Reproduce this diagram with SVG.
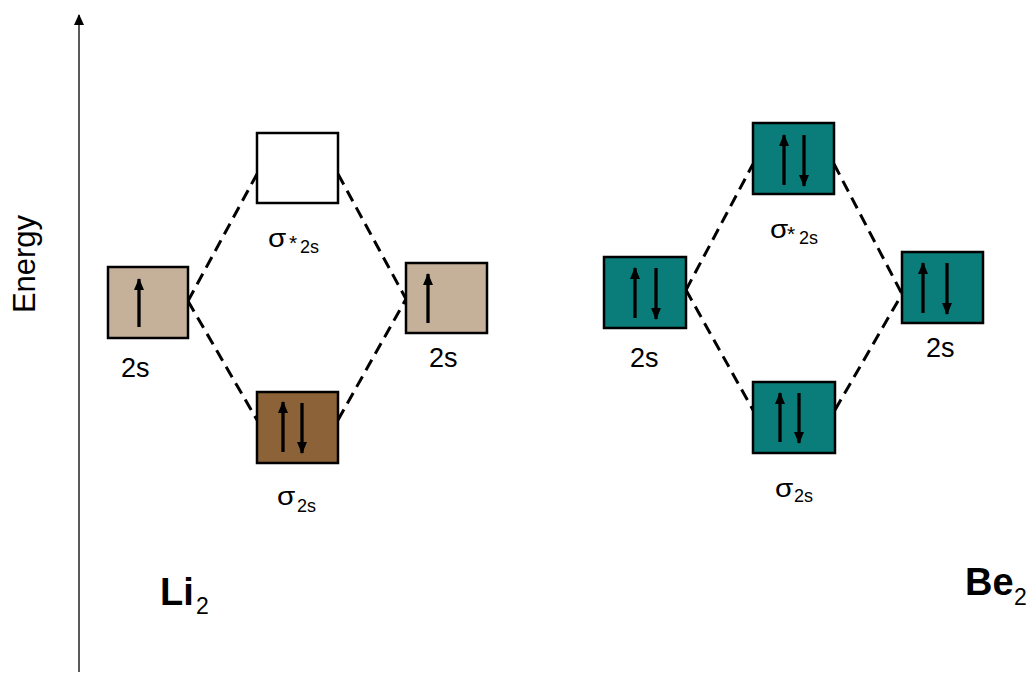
<svg xmlns="http://www.w3.org/2000/svg" width="1033" height="675" viewBox="0 0 1033 675">
  <defs>
    <!-- filled spin arrowhead, tip at the end of the line -->
    <marker id="head" viewBox="0 0 12 10" refX="11" refY="5" markerWidth="12" markerHeight="10" markerUnits="userSpaceOnUse" orient="auto">
      <path d="M0,0 L12,5 L0,10 Z" fill="#000"/>
    </marker>
    <marker id="axisHead" viewBox="0 0 11 10" refX="10" refY="5" markerWidth="11" markerHeight="10" markerUnits="userSpaceOnUse" orient="auto">
      <path d="M0,0 L11,5 L0,10 Z" fill="#000"/>
    </marker>
  </defs>
  <style>
    .box { stroke: #000; stroke-width: 2.5; }
    .tan { fill: #C5B19A; }
    .brown { fill: #8C6239; }
    .teal { fill: #0A7C7A; }
    .empty { fill: #FFFFFF; }
    .spin { stroke: #000; stroke-width: 3.3; fill: none; marker-end: url(#head); }
    .dash { stroke: #000; stroke-width: 3; stroke-dasharray: 12 7; fill: none; }
    .t { font-family: "Liberation Sans", Arial, sans-serif; fill: #000; }
    .lbl { font-size: 27px; }
    .sig { font-size: 25px; }
    .sub { font-size: 18px; }
    .star { font-size: 21px; }
    .mol { font-size: 38px; font-weight: bold; }
    .molsub { font-size: 23px; font-weight: normal; }
  </style>

  <rect width="1033" height="675" fill="#FFFFFF"/>

  <!-- energy axis -->
  <g id="axis">
    <line x1="79" y1="672" x2="79" y2="15" stroke="#222" stroke-width="1.5" marker-end="url(#axisHead)"/>
    <text class="t" font-size="31" text-anchor="middle" transform="translate(35,264) rotate(-90)">Energy</text>
  </g>

  <!-- correlation lines -->
  <g id="connectors">
    <line class="dash" x1="188" y1="301" x2="257" y2="174"/>
    <line class="dash" x1="338" y1="174" x2="406" y2="299"/>
    <line class="dash" x1="188" y1="301" x2="257" y2="420"/>
    <line class="dash" x1="338" y1="420" x2="406" y2="299"/>
    <line class="dash" x1="686" y1="290" x2="753" y2="164"/>
    <line class="dash" x1="834" y1="164" x2="902" y2="294"/>
    <line class="dash" x1="686" y1="290" x2="753" y2="410"/>
    <line class="dash" x1="835" y1="410" x2="902" y2="294"/>
  </g>

  <!-- Li2 -->
  <g id="li-2s-left">
    <rect class="box tan" x="108" y="267" width="80" height="71"/>
    <line class="spin" x1="139" y1="327" x2="139" y2="279"/>
    <text class="t lbl" x="121" y="377">2s</text>
  </g>
  <g id="li-2s-right">
    <rect class="box tan" x="406" y="263" width="81" height="70"/>
    <line class="spin" x1="428" y1="323" x2="428" y2="274"/>
    <text class="t lbl" x="429" y="367">2s</text>
  </g>
  <g id="li-sigma-star">
    <rect class="box empty" x="257" y="133" width="81" height="70"/>
    <text class="t sig" transform="translate(268,247) scale(1.18,1)">σ</text>
    <text class="t"><tspan class="star" x="289" y="250">*</tspan><tspan class="sub" x="300" y="253">2s</tspan></text>
  </g>
  <g id="li-sigma">
    <rect class="box brown" x="257" y="392" width="81" height="71"/>
    <line class="spin" x1="283" y1="452" x2="283" y2="402"/>
    <line class="spin" x1="302" y1="403" x2="302" y2="453"/>
    <text class="t sig" transform="translate(277,505) scale(1.18,1)">σ</text>
    <text class="t sub" x="297" y="512">2s</text>
  </g>
  <g id="li2-label">
    <text class="t mol" x="160" y="605">Li<tspan class="molsub" x="196" y="614">2</tspan></text>
  </g>

  <!-- Be2 -->
  <g id="be-2s-left">
    <rect class="box teal" x="604" y="257" width="82" height="71"/>
    <line class="spin" x1="635" y1="318" x2="635" y2="268"/>
    <line class="spin" x1="656" y1="268" x2="656" y2="319"/>
    <text class="t lbl" x="630" y="367">2s</text>
  </g>
  <g id="be-2s-right">
    <rect class="box teal" x="902" y="252" width="81" height="71"/>
    <line class="spin" x1="923" y1="313" x2="923" y2="263"/>
    <line class="spin" x1="947" y1="263" x2="947" y2="314"/>
    <text class="t lbl" x="926" y="357">2s</text>
  </g>
  <g id="be-sigma-star">
    <rect class="box teal" x="753" y="123" width="81" height="71"/>
    <line class="spin" x1="784" y1="185" x2="784" y2="135"/>
    <line class="spin" x1="804" y1="135" x2="804" y2="186"/>
    <text class="t sig" transform="translate(770,238) scale(1.18,1)">σ</text>
    <text class="t"><tspan class="star" x="787" y="241">*</tspan><tspan class="sub" x="799" y="244">2s</tspan></text>
  </g>
  <g id="be-sigma">
    <rect class="box teal" x="753" y="382" width="82" height="71"/>
    <line class="spin" x1="780" y1="442" x2="780" y2="393"/>
    <line class="spin" x1="799" y1="393" x2="799" y2="443"/>
    <text class="t sig" transform="translate(775,497) scale(1.18,1)">σ</text>
    <text class="t sub" x="794" y="502">2s</text>
  </g>
  <g id="be2-label">
    <text class="t mol" x="965" y="595">Be<tspan class="molsub" x="1014" y="605">2</tspan></text>
  </g>
</svg>
